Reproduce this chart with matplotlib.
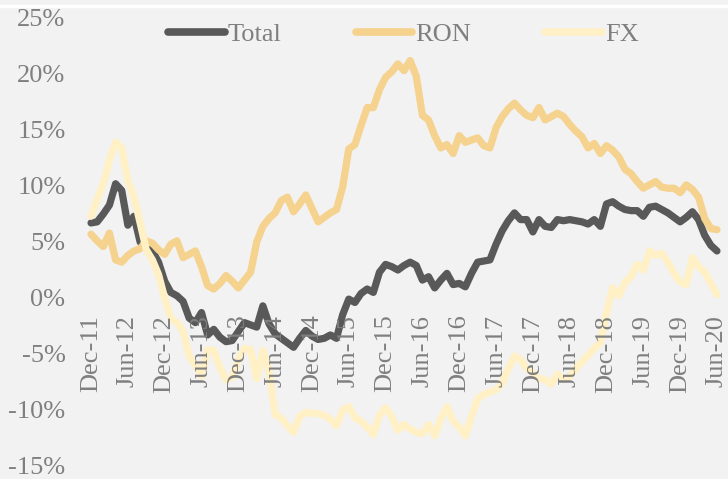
import matplotlib
matplotlib.use("Agg")
import matplotlib.pyplot as plt
from matplotlib.lines import Line2D

# ---- data (monthly, Dec-2011 .. Jun-2020), values in % ----
total = [6.7, 6.8, 7.5, 8.3, 10.2, 9.6, 6.5, 7.3, 5.0, 4.4, 4.2, 3.2,
         1.5, 0.5, 0.2, -0.3, -1.8, -2.2, -1.3, -3.3, -2.8, -3.5, -3.9, -3.8,
         -3.0, -2.2, -2.4, -2.6, -0.7, -2.3, -3.2, -3.6, -4.0, -4.4, -3.6, -2.9,
         -3.4, -3.7, -3.6, -3.3, -3.6, -1.5, -0.1, -0.4, 0.4, 0.8, 0.5, 2.3,
         3.0, 2.8, 2.5, 2.9, 3.2, 2.9, 1.6, 1.9, 0.9, 1.6, 2.2, 1.2,
         1.3, 1.0, 2.2, 3.2, 3.3, 3.4, 4.8, 6.0, 6.9, 7.6, 7.0, 7.0,
         5.9, 7.0, 6.4, 6.3, 7.0, 6.9, 7.0, 6.9, 6.8, 6.6, 7.0, 6.4,
         8.4, 8.6, 8.2, 7.9, 7.8, 7.8, 7.3, 8.1, 8.2, 7.9, 7.6, 7.2,
         6.8, 7.2, 7.7, 7.0, 5.6, 4.7, 4.2]

ron = [5.7, 5.1, 4.6, 5.8, 3.4, 3.2, 3.8, 4.2, 4.4, 5.1, 4.9, 4.3,
       3.9, 4.8, 5.1, 3.6, 3.9, 4.2, 2.8, 1.1, 0.8, 1.3, 2.0, 1.5,
       0.9, 1.6, 2.3, 5.0, 6.4, 7.1, 7.6, 8.7, 9.0, 7.7, 8.4, 9.2,
       8.0, 6.8, 7.2, 7.6, 7.9, 9.9, 13.3, 13.7, 15.4, 17.0, 17.0, 18.6,
       19.7, 20.2, 20.9, 20.3, 21.2, 19.8, 16.3, 15.9, 14.5, 13.4, 13.7, 12.9,
       14.5, 13.9, 14.1, 14.3, 13.6, 13.4, 15.2, 16.2, 16.9, 17.4, 16.8, 16.3,
       16.1, 17.0, 15.9, 16.2, 16.5, 16.2, 15.5, 14.9, 14.4, 13.4, 13.8, 12.9,
       13.6, 13.2, 12.6, 11.5, 11.1, 10.4, 9.8, 10.1, 10.4, 9.9, 9.8, 9.8,
       9.4, 10.1, 9.7, 9.0, 7.1, 6.2, 6.1]

fx = [7.3, 8.8, 10.2, 12.3, 13.9, 13.4, 10.5, 9.0, 6.7, 4.3, 3.4, 2.1,
      0.0, -1.8, -2.2, -3.0, -5.2, -6.0, -7.0, -4.6, -4.7, -6.2, -7.3, -7.1,
      -5.5, -4.5, -4.6, -7.2, -4.7, -6.5, -10.4, -10.7, -11.4, -12.0, -10.6, -10.2,
      -10.3, -10.3, -10.5, -10.8, -11.4, -10.0, -9.7, -10.7, -11.0, -11.5, -12.2, -10.5,
      -9.8, -10.6, -11.8, -11.3, -11.7, -12.0, -12.1, -11.3, -12.3, -10.8, -9.7, -11.0,
      -11.5, -12.3, -10.6, -9.0, -8.6, -8.4, -8.2, -7.6, -6.3, -5.2, -5.5, -6.3,
      -6.7, -7.2, -7.3, -7.7, -6.8, -7.3, -7.0, -6.3, -5.7, -5.1, -4.5, -4.0,
      -1.3, 0.9, 0.2, 1.4, 1.9, 3.0, 2.5, 4.2, 3.8, 4.0, 3.2, 2.2,
      1.4, 1.2, 3.6, 2.8, 2.3, 1.3, 0.3]

tick_labels = ["Dec-11", "Jun-12", "Dec-12", "Jun-13", "Dec-13", "Jun-14",
               "Dec-14", "Jun-15", "Dec-15", "Jun-16", "Dec-16", "Jun-17",
               "Dec-17", "Jun-18", "Dec-18", "Jun-19", "Dec-19", "Jun-20"]
y_ticks = [-15, -10, -5, 0, 5, 10, 15, 20, 25]
series_names = ["Total", "RON", "FX"]

# ---- style ----
BG = "#f2f2f2"
TXT = "#7f7f7f"
colors = ["#595959", "#f5d28e", "#fff0c6"]
FONT = "Liberation Serif"
FS = 19

W, H = 728, 479
fig = plt.figure(figsize=(W / 100, H / 100), dpi=100, facecolor=BG)
left_px, right_px = 84.9, 723.1
bottom_px, top_px = 466, 18
ax = fig.add_axes([left_px / W, (H - bottom_px) / H,
                   (right_px - left_px) / W, (bottom_px - top_px) / H])
ax.set_facecolor(BG)

x = list(range(len(total)))
for name, data, c in zip(series_names, [total, ron, fx], colors):
    ax.plot(x, data, color=c, lw=5.2, solid_capstyle="round",
            solid_joinstyle="round", label=name)

ax.set_xlim(-1, 103)
ax.set_ylim(-15, 25)

for s in ax.spines.values():
    s.set_visible(False)
ax.spines["bottom"].set_position(("data", 0))
ax.set_axisbelow(False)

ax.set_xticks(list(range(0, 103, 6)))
ax.set_xticklabels(tick_labels, rotation=90, fontsize=FS, family=FONT, color=TXT)
ax.set_yticks(y_ticks)
ax.set_yticklabels([f"{v}%" for v in y_ticks], fontsize=FS, family=FONT, color=TXT)
ax.tick_params(axis="x", length=0, pad=12)
ax.tick_params(axis="y", length=0, pad=14)

leg = fig.legend(loc="center", bbox_to_anchor=(403.5 / W, 1 - 34 / H),
                 ncol=3, frameon=False, handlelength=2.15, handletextpad=0.12,
                 columnspacing=2.8, prop={"family": FONT, "size": FS})
for t in leg.get_texts():
    t.set_color(TXT)
for h in leg.get_lines():
    h.set_linewidth(5.5)
    h.set_solid_capstyle("round")

fig.add_artist(Line2D([0, 1], [1 - 6 / H, 1 - 6 / H], transform=fig.transFigure,
                      color="white", lw=2.4))

fig.savefig("out.png", dpi=100, facecolor=BG)
